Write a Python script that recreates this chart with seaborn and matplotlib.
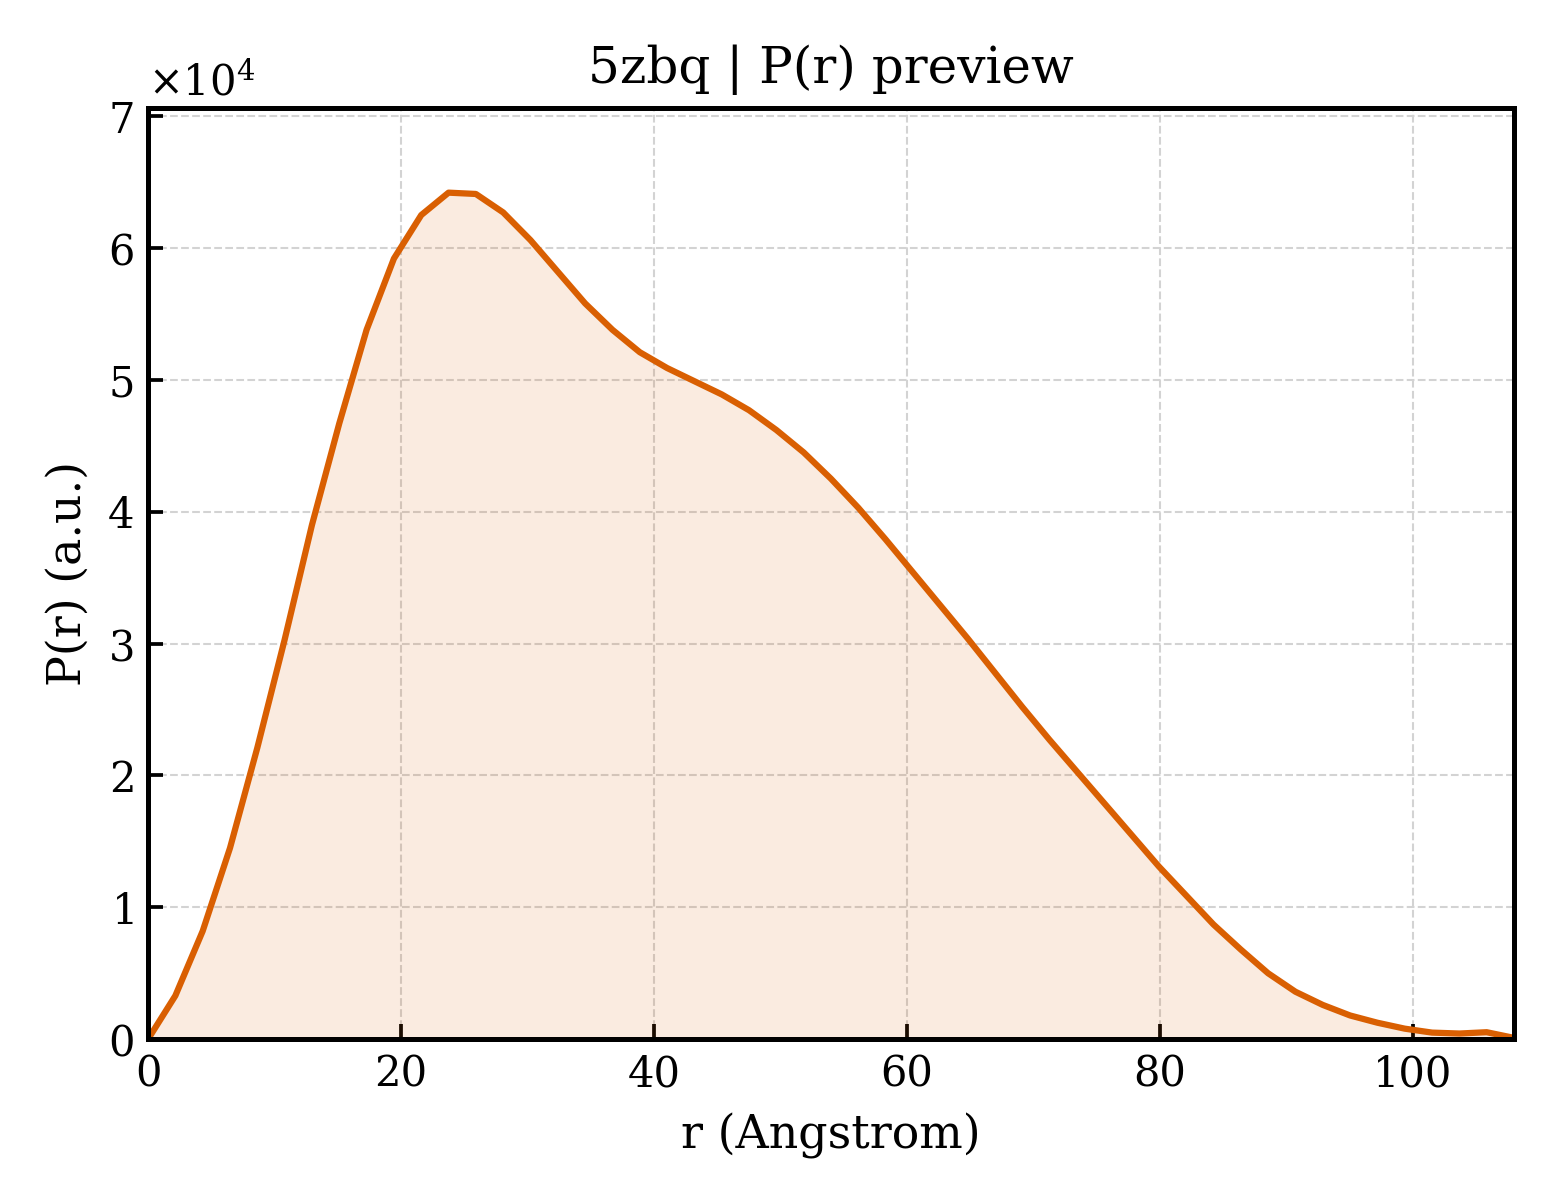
import matplotlib
matplotlib.use("Agg")
import matplotlib.pyplot as plt
import seaborn as sns
import numpy as np
import pandas as pd
from matplotlib.ticker import ScalarFormatter

title = "5zbq | P(r) preview"
xlabel = "r (Angstrom)"
ylabel = "P(r) (a.u.)"

r_values = [0.00, 2.16, 4.32, 6.48, 8.64, 10.80, 12.96, 15.12, 17.28, 19.44,
            21.60, 23.76, 25.92, 28.08, 30.24, 32.40, 34.56, 36.72, 38.88, 41.04,
            43.20, 45.36, 47.52, 49.68, 51.84, 54.00, 56.16, 58.32, 60.48, 62.64,
            64.80, 66.96, 69.12, 71.28, 73.44, 75.60, 77.76, 79.92, 82.08, 84.24,
            86.40, 88.56, 90.72, 92.88, 95.04, 97.20, 99.36, 101.52, 103.68, 105.84,
            108.00]
p_values = [0.0, 3300, 8200, 14500, 22100, 30300, 39000, 46700, 53800, 59200,
            62500, 64200, 64100, 62700, 60600, 58200, 55800, 53800, 52100, 50900,
            49900, 48900, 47700, 46200, 44500, 42500, 40300, 37900, 35400, 32900,
            30400, 27800, 25200, 22700, 20300, 17900, 15500, 13100, 10900, 8700,
            6800, 5000, 3600, 2600, 1800, 1250, 800, 500, 430, 530,
            100]

line_color = "#d95f02"

sns.set_theme(style="white")
plt.rcParams["font.family"] = ["DejaVu Serif"]
plt.rcParams["mathtext.fontset"] = "dejavuserif"
plt.rcParams["text.color"] = "black"
plt.rcParams["axes.labelcolor"] = "black"

df = pd.DataFrame({"r": r_values, "P": p_values})

fig = plt.figure(figsize=(5.2, 4.0), dpi=300)
ax = fig.add_axes([0.0949, 0.134, 0.8756, 0.776])

ax.fill_between(df["r"], 0, df["P"], color=line_color, alpha=0.12, linewidth=0)
sns.lineplot(data=df, x="r", y="P", ax=ax, color=line_color, linewidth=1.5)

ax.set_xlim(min(r_values), max(r_values))
ax.set_ylim(0, max(p_values) * 1.1)

ax.set_title(title, fontsize=12, color="black")
ax.set_xlabel(xlabel, fontsize=11, color="black")
ax.set_ylabel(ylabel, fontsize=11, color="black")

fmt = ScalarFormatter(useMathText=True)
fmt.set_powerlimits((0, 0))
ax.yaxis.set_major_formatter(fmt)
ax.yaxis.get_offset_text().set_fontsize(10)
ax.yaxis.get_offset_text().set_color("black")

ax.tick_params(axis="both", which="major", direction="in", length=3.5, width=0.9,
               labelsize=10, top=False, right=False, bottom=True, left=True,
               colors="black", labelcolor="black")
for s in ax.spines.values():
    s.set_linewidth(1.2)
    s.set_color("black")

ax.grid(True, linestyle="--", linewidth=0.5, color="#d3d3d3")
ax.set_axisbelow(True)

fig.savefig("out.png", dpi=300)
